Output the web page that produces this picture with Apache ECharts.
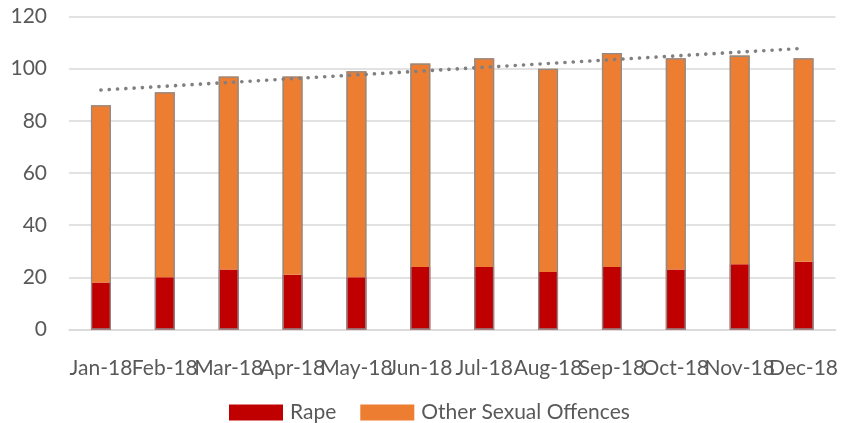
<!DOCTYPE html>
<html>
<head>
<meta charset="utf-8">
<script src="https://cdn.jsdelivr.net/npm/echarts@6/dist/echarts.min.js"></script>
<style>
  html, body { margin: 0; padding: 0; background: #ffffff; }
  #chart { width: 841px; height: 423px; }
</style>
</head>
<body>
<div id="chart"></div>
<script>
// Monthly recorded sexual offences, 2018
const months = ['Jan-18', 'Feb-18', 'Mar-18', 'Apr-18', 'May-18', 'Jun-18',
                'Jul-18', 'Aug-18', 'Sep-18', 'Oct-18', 'Nov-18', 'Dec-18'];
const rape = [18, 20, 23, 21, 20, 24, 24, 22, 24, 23, 25, 26];
const otherSexualOffences = [68, 71, 74, 76, 79, 78, 80, 78, 82, 81, 80, 78];
// Linear trend of the monthly total: value at first and last month
const trendEnds = [91.8, 107.8];
const yTicks = { min: 0, max: 120, interval: 20 };

const totals = rape.map((v, i) => v + otherSexualOffences[i]);
const trendData = months.map((m, i) =>
  i === 0 ? trendEnds[0] : (i === months.length - 1 ? trendEnds[1] : null));

const FONT = 'Lato, "Open Sans", sans-serif';
const TEXT = '#595959';
const GRID = '#d9d9d9';

const chart = echarts.init(document.getElementById('chart'), null, { renderer: 'canvas' });
chart.setOption({
  animation: false,
  backgroundColor: '#ffffff',
  grid: { left: 69, right: 5, top: 16.5, bottom: 93.5, containLabel: false },
  legend: {
    data: ['Rape', 'Other Sexual Offences'],
    left: 224,
    top: 397,
    icon: 'rect',
    itemWidth: 54,
    itemHeight: 16,
    itemGap: 24,
    textStyle: { fontFamily: FONT, fontSize: 21, color: TEXT, padding: [0, 0, 0, 2] }
  },
  xAxis: {
    type: 'category',
    data: months,
    axisLine: { show: true, lineStyle: { color: GRID, width: 1.5 } },
    axisTick: { show: false },
    axisLabel: { interval: 0, margin: 28, fontFamily: FONT, fontSize: 21, color: TEXT }
  },
  yAxis: {
    type: 'value',
    min: yTicks.min,
    max: yTicks.max,
    interval: yTicks.interval,
    axisLine: { show: false },
    axisTick: { show: false },
    splitLine: { lineStyle: { color: GRID, width: 1.5 } },
    axisLabel: { margin: 22, fontFamily: FONT, fontSize: 21, color: TEXT, padding: [7, 0, 0, 0] }
  },
  series: [
    {
      name: 'Rape',
      type: 'bar',
      stack: 'offences',
      barWidth: 20,
      itemStyle: { color: '#c00000' },
      data: rape
    },
    {
      name: 'Other Sexual Offences',
      type: 'bar',
      stack: 'offences',
      barWidth: 20,
      itemStyle: { color: '#ed7d31' },
      data: otherSexualOffences
    },
    {
      name: 'Total',
      type: 'bar',
      barWidth: 20,
      barGap: '-100%',
      z: 3,
      itemStyle: { color: 'rgba(0,0,0,0)', borderColor: '#8c8c8c', borderWidth: 1.3 },
      data: totals
    },
    {
      name: 'Trend',
      type: 'line',
      data: trendData,
      connectNulls: true,
      symbol: 'none',
      z: 4,
      lineStyle: { color: '#808080', width: 3.6, type: [0.1, 8.2], cap: 'round' }
    }
  ]
});
</script>
</body>
</html>
